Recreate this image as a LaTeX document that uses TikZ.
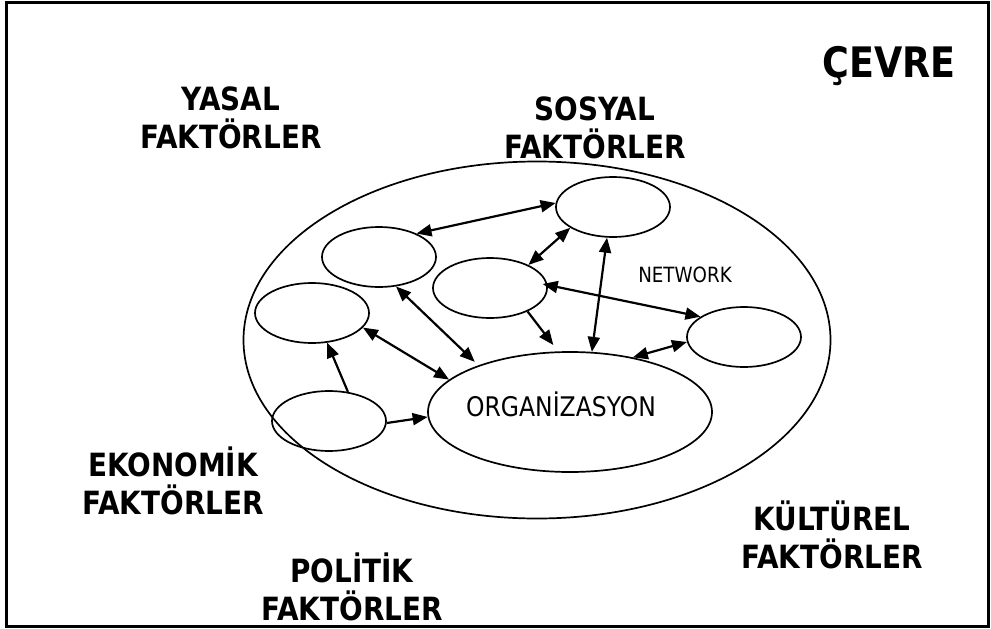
\documentclass[tikz,border=0pt]{standalone}
\usepackage{fontspec}
\setmainfont{DejaVu Sans}[FakeStretch=0.87]
\usepackage{tikz}
\usetikzlibrary{shapes.geometric,arrows.meta}
\newcommand{\widthmember}{114pt}
\newcommand{\heightmember}{60pt}
\newcommand{\tip}{Triangle[length=15pt,width=12pt]}
\tikzset{
    common/.style={draw, ellipse, line width=1.7pt, inner sep=0pt},
    member/.style={common, minimum width=\widthmember, minimum height=\heightmember},
    factor/.style={align=center, font=\bfseries\fontsize{32}{38}\selectfont},
    link/.style={line width=2.2pt, {\tip}-{\tip}},
    oneway/.style={line width=2.2pt, -{\tip}}
}

\begin{document}
\begin{tikzpicture}[x=1pt, y=-1pt]
        \useasboundingbox (0,0) rectangle (991,629);
        \draw[line width=3pt] (6,2) rectangle (988,626);

        % environment, organisation and network
        \node[common, minimum width=587pt, minimum height=357pt] (env) at (537,340) {};
        \node[common, minimum width=284pt, minimum height=120pt] (org) at (570,412) {};
        \node[font=\fontsize{27}{31}\selectfont] (orgname) at (561,404) {ORGANİZASYON};
        \node[font=\fontsize{21}{25}\selectfont] (network) at (685,275) {NETWORK};

        \node[member] (n1) at (613,207) {};
        \node[member] (n2) at (379,257) {};
        \node[member] (n3) at (490,288) {};
        \node[member] (n4) at (312,313) {};
        \node[member] (n5) at (329,421) {};
        \node[member] (n6) at (744,337) {};

        \draw[link] (n2.32) -- (n1.176);
        \draw[link] (n1.206) -- (n3.31);
        \draw[link] (n1.259) -- (org.70);
        \draw[link, shorten <=-5pt] (n3.3) -- (n6.155);
        \draw[oneway, shorten >=8pt] (n3.328) -- (org.101);
        \draw[link, shorten >=5pt] (n2.300) -- (org.153);
        \draw[link] (n4.344) -- (org.165);
        \draw[oneway] (n5.57) -- (n4.297);
        \draw[oneway] (n5.358) -- (org.182);
        \draw[link] (org.41) -- (n6.185);

        % factors
        \node[factor, font=\bfseries\fontsize{42}{48}\selectfont, anchor=base] (cevre) at (889,77) {ÇEVRE};
        \node[factor] (yasal) at (231,118) {YASAL\\FAKTÖRLER};
        \node[factor] (sosyal) at (595,128) {SOSYAL\\FAKTÖRLER};
        \node[factor] (ekonomik) at (173,481) {EKONOMİK\\FAKTÖRLER};
        \node[factor] (politik) at (352,587) {POLİTİK\\FAKTÖRLER};
        \node[factor] (kulturel) at (832,535) {KÜLTÜREL\\FAKTÖRLER};
    \end{tikzpicture}
\end{document}
